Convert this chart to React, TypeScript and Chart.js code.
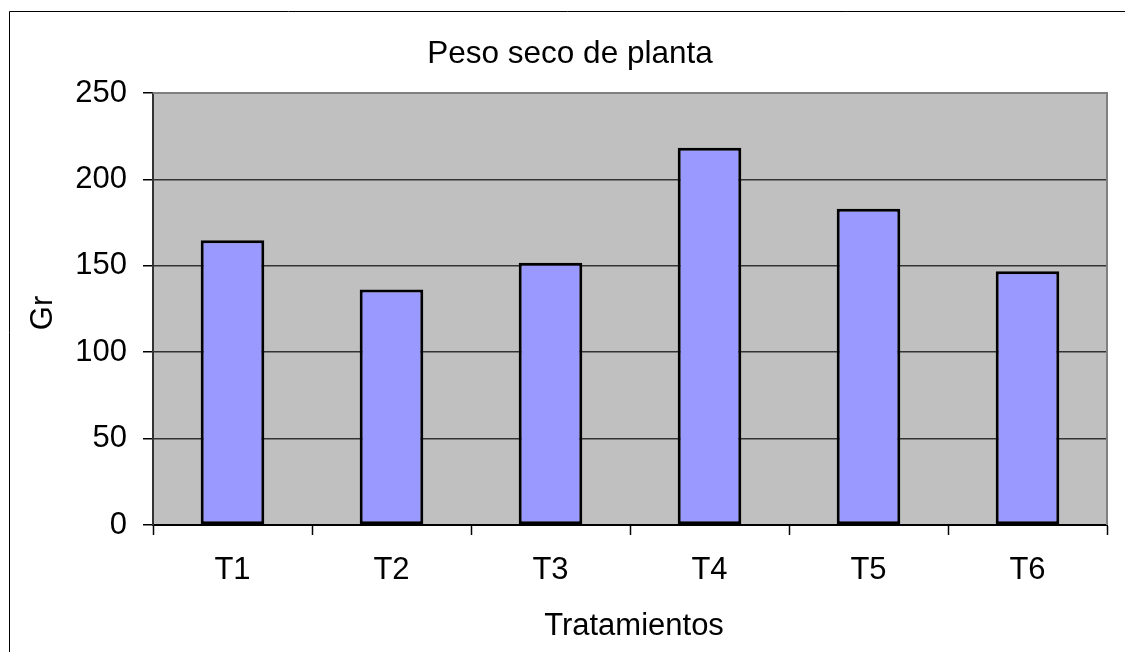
import React, { useEffect, useRef } from "react";
import { Chart, registerables } from "chart.js";

Chart.register(...registerables);

const categories = ["T1", "T2", "T3", "T4", "T5", "T6"];
const pesoSeco = [164.8, 136.3, 151.8, 218.3, 183, 146.8];
const yTicks = [0, 50, 100, 150, 200, 250];
const chartTitle = "Peso seco de planta";
const xTitle = "Tratamientos";
const yTitle = "Gr";

const FONT = "'Liberation Sans', Arial, sans-serif";

export default function App() {
  const ref = useRef<HTMLCanvasElement | null>(null);

  useEffect(() => {
    const canvas = ref.current;
    if (!canvas) return;

    const decor = {
      id: "decor",
      beforeDraw(chart: any) {
        const { ctx, chartArea } = chart;
        ctx.save();
        ctx.fillStyle = "#ffffff";
        ctx.fillRect(0, 0, chart.width, chart.height);
        ctx.fillStyle = "#c0c0c0";
        ctx.fillRect(chartArea.left, chartArea.top, chartArea.right - chartArea.left, chartArea.bottom - chartArea.top);
        ctx.restore();
      },
      afterDraw(chart: any) {
        const { ctx, chartArea } = chart;
        ctx.save();
        // plot top & right border
        ctx.strokeStyle = "#808080";
        ctx.lineWidth = 2;
        ctx.beginPath();
        ctx.moveTo(chartArea.left, chartArea.top);
        ctx.lineTo(chartArea.right, chartArea.top);
        ctx.lineTo(chartArea.right, chartArea.bottom);
        ctx.stroke();
        // outer chart border
        ctx.strokeStyle = "#000000";
        ctx.lineWidth = 1;
        ctx.beginPath();
        ctx.moveTo(9.5, 700);
        ctx.lineTo(9.5, 11.5);
        ctx.lineTo(1200, 11.5);
        ctx.stroke();
        // texts
        ctx.fillStyle = "#000000";
        ctx.textAlign = "center";
        ctx.textBaseline = "alphabetic";
        ctx.font = `31.5px ${FONT}`;
        ctx.fillText(chartTitle, 570, 63);
        ctx.font = `31px ${FONT}`;
        ctx.fillText(xTitle, 634, 635);
        ctx.translate(51.5, 313);
        ctx.rotate(-Math.PI / 2);
        ctx.fillText(yTitle, 0, 0);
        ctx.restore();
      },
    };

    const chart = new Chart(canvas, {
      type: "bar",
      data: {
        labels: categories,
        datasets: [
          {
            label: chartTitle,
            data: pesoSeco,
            backgroundColor: "#9999ff",
            borderColor: "#000000",
            borderWidth: 3,
            borderSkipped: false,
            barPercentage: 0.4,
            categoryPercentage: 1,
          },
        ],
      },
      options: {
        responsive: false,
        animation: false,
        layout: { padding: { top: 93, right: 18, left: 0, bottom: 0 } },
        plugins: {
          legend: { display: false },
          title: { display: false },
          tooltip: { enabled: false },
        },
        scales: {
          x: {
            afterFit: (scale: any) => {
              scale.height = 127;
            },
            grid: {
              offset: true,
              drawOnChartArea: false,
              drawTicks: true,
              tickLength: 10,
              tickColor: "#000000",
              tickWidth: 1.5,
            },
            border: { display: true, color: "#000000", width: 2 },
            ticks: {
              color: "#000000",
              font: { family: FONT, size: 31 },
              padding: 17,
              maxRotation: 0,
            },
          },
          y: {
            min: 0,
            max: 250,
            afterFit: (scale: any) => {
              scale.width = 153;
            },
            afterBuildTicks: (scale: any) => {
              scale.ticks = yTicks.map((v) => ({ value: v }));
            },
            grid: {
              color: "#333333",
              lineWidth: 1.5,
              drawTicks: true,
              tickLength: 10,
              tickColor: "#000000",
            },
            border: { display: true, color: "#333333", width: 2 },
            ticks: {
              stepSize: 50,
              color: "#000000",
              font: { family: FONT, size: 31 },
              padding: 16,
            },
          },
        },
      },
      plugins: [decor],
    });

    return () => chart.destroy();
  }, []);

  return (
    <div style={{ position: "fixed", left: 0, top: 0, width: 1125, height: 652, background: "#fff" }}>
      <canvas ref={ref} width={1125} height={652} style={{ display: "block", width: 1125, height: 652 }} />
    </div>
  );
}
